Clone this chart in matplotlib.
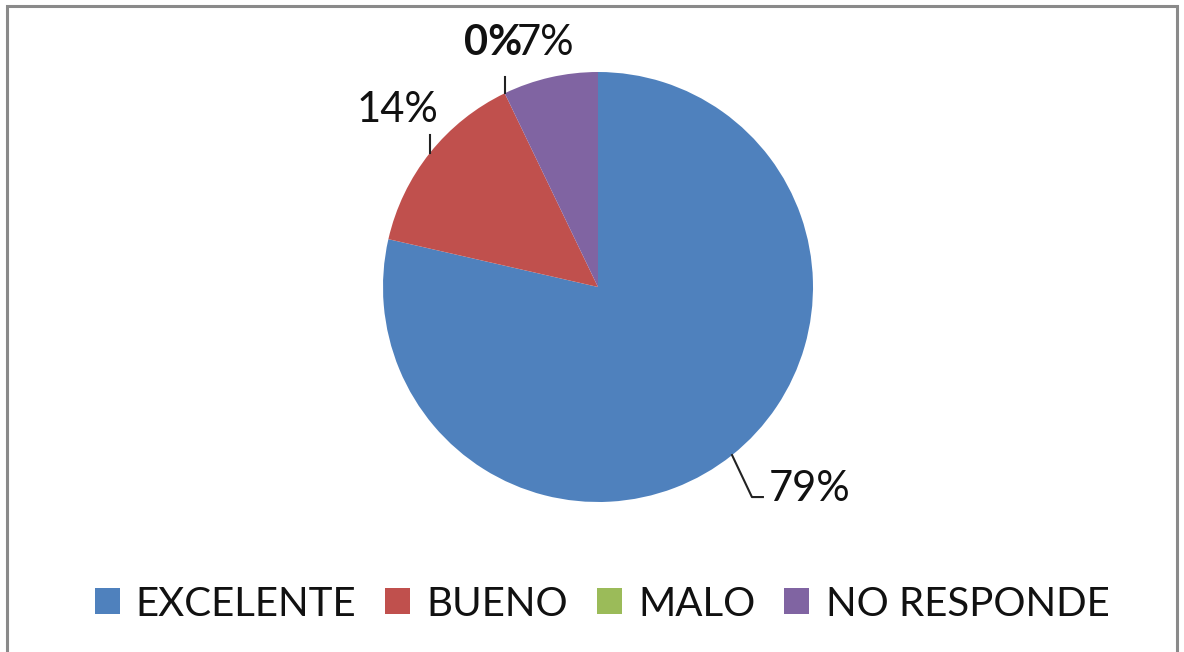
import numpy as np
import matplotlib
matplotlib.use("Agg")
import matplotlib.pyplot as plt
from matplotlib.patches import Rectangle

categories = ["EXCELENTE", "BUENO", "MALO", "NO RESPONDE"]
counts = [11, 2, 0, 1]
pct_labels = ["79%", "14%", "0%", "7%"]
colors = ["#4F81BD", "#C0504D", "#9BBB59", "#8064A2"]

W, H = 1184, 652
fig = plt.figure(figsize=(W / 100, H / 100), dpi=100)
FONT = ["Lato", "DejaVu Sans"]
plt.rcParams["font.family"] = FONT

cx, cy, r = 598, 287, 215
ax = fig.add_axes([(cx - r) / W, (H - cy - r) / H, 2 * r / W, 2 * r / H])
wedges, _ = ax.pie(counts, colors=colors, startangle=90, counterclock=False,
                   radius=1, wedgeprops=dict(linewidth=0))
ax.set_xlim(-1, 1)
ax.set_ylim(-1, 1)
ax.set_aspect("equal")
ax.axis("off")

fs = 30
lfs = 29
lc = "#222222"
tc = "#111111"

def edge(w):
    a = np.deg2rad((w.theta1 + w.theta2) / 2)
    return np.cos(a), np.sin(a)

# 79%
x0, y0 = edge(wedges[0])
ax.plot([x0, 0.716, 0.767], [y0, -0.977, -0.977], color=lc, lw=1.5, clip_on=False)
ax.text(0.795, -0.995, pct_labels[0], fontsize=fs, ha="left", va="baseline", color=tc)

# 14%
x1, y1 = edge(wedges[1])
ax.plot([x1, x1], [y1, 0.707], color=lc, lw=1.5, clip_on=False)
ax.text(-0.935, 0.767, pct_labels[1], fontsize=fs, ha="center", va="baseline", color=tc)

# 0% (zero-size wedge)
x2, y2 = edge(wedges[2])
ax.plot([x2, x2], [y2, 0.977], color=lc, lw=1.5, clip_on=False)
ax.text(-0.49, 1.079, pct_labels[2], fontsize=fs, ha="center", va="baseline",
        fontweight="bold", color=tc)

# 7%
ax.text(-0.245, 1.079, pct_labels[3], fontsize=fs, ha="center", va="baseline", color=tc)

leg = fig.legend(wedges, categories, loc="center", bbox_to_anchor=(602 / W, 1 - 604 / H),
                 ncol=4, frameon=False, fontsize=lfs, handlelength=0.62, handleheight=0.62,
                 handletextpad=0.4, columnspacing=0.72, borderaxespad=0, borderpad=0)
for t in leg.get_texts():
    t.set_color(tc)

fig.patches.append(Rectangle((7 / W, -0.05), (1177 - 7) / W, 1.05 - 6 / H,
                             transform=fig.transFigure, fill=False,
                             edgecolor="#8a8a8a", linewidth=2.2))

fig.savefig("out.png", dpi=100)
